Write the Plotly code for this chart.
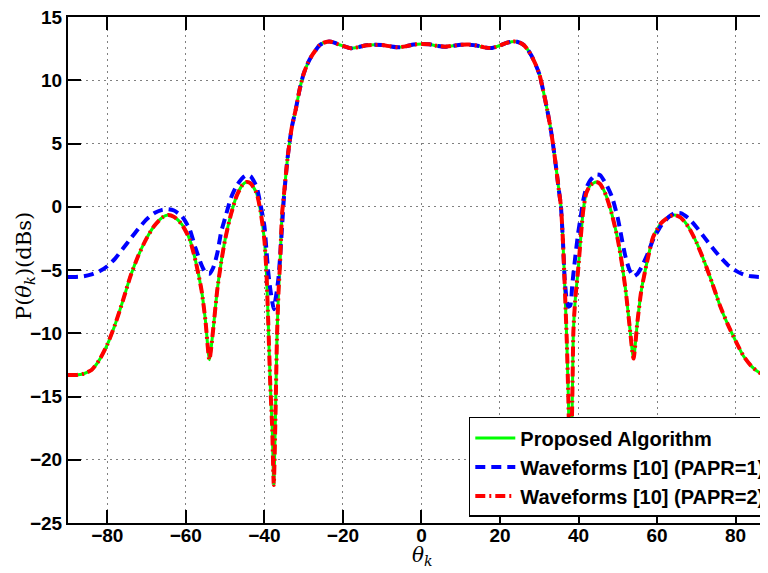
import plotly.graph_objects as go

# ---------------- data ----------------
theta = [-90, -88, -86, -84, -82, -80, -78, -76, -74, -72, -70, -68, -66, -64.5, -63,
         -61, -59, -57.5, -56, -55, -54, -53, -52, -51, -50, -48.5, -47, -45.5, -44.5,
         -43.5, -42, -41, -40, -39.5, -39, -38.5, -38, -37.6, -37.2, -36.8, -36.4, -36,
         -35.5, -35, -34, -33, -32, -31, -30, -29, -28, -27, -26, -25, -24, -23, -22,
         -21, -20, -18, -16, -14, -12, -10, -8, -6, -4, -2, 0, 2, 4, 6, 8, 10, 12, 14,
         16, 18, 20, 21, 22, 23, 24, 25, 26, 27, 28, 29, 30, 31, 32, 33, 34, 35, 35.5,
         36, 36.5, 37, 37.4, 37.9, 38.4, 38.7, 39.2, 39.9, 40.5, 41.2, 42, 43, 44.5,
         45.5, 47, 48.5, 50, 51, 52, 53, 54, 55, 56, 57.5, 59, 61, 63, 64.5, 66, 68,
         70, 72, 74, 76, 78, 80, 82, 84, 86, 88, 90]

p_proposed = [-13.3, -13.3, -13.2, -12.9, -12.1, -10.9, -9.3, -7.4, -5.4, -3.8, -2.5, -1.5,
              -0.85, -0.65, -0.8, -1.4, -2.6, -4.3, -6.6, -9.0, -12.1, -9.6, -6.6, -4.4,
              -2.6, -0.6, 0.9, 1.75, 1.95, 1.85, 1.1, -0.3, -2.6, -5.0, -9.2, -14.0,
              -17.5, -22.0, -17.0, -10.5, -6.8, -4.4, -0.6, 1.0, 4.1, 6.3, 7.7, 9.3,
              10.5, 11.3, 11.9, 12.35, 12.75, 12.95, 13.05, 13.05, 12.95, 12.82, 12.72,
              12.53, 12.62, 12.77, 12.8, 12.78, 12.68, 12.6, 12.68, 12.82, 12.87, 12.84,
              12.72, 12.65, 12.72, 12.8, 12.82, 12.75, 12.6, 12.55, 12.75, 12.88, 12.98,
              13.05, 13.07, 12.97, 12.8, 12.45, 11.95, 11.3, 10.5, 9.2, 7.7, 6.0, 3.8,
              1.3, 0.1, -2.5, -6.3, -10.5, -15.0, -22.0, -15.5, -9.8, -7.2, -5.0, -2.7,
              -0.3, 1.1, 1.7, 1.95, 1.8, 0.9, -0.6, -2.6, -4.4, -6.6, -9.4, -12.0, -9.1,
              -6.6, -4.3, -2.4, -1.3, -0.8, -0.65, -0.85, -1.6, -2.8, -4.3, -6.0, -7.8,
              -9.3, -10.6, -11.8, -12.6, -13.1, -13.3, -13.3]

p_papr1 = [-5.55, -5.55, -5.5, -5.35, -5.1, -4.7, -4.1, -3.3, -2.5, -1.7, -1.0, -0.5,
           -0.25, -0.2, -0.3, -0.75, -1.8, -3.3, -4.6, -5.2, -5.3, -4.8, -3.7, -2.0,
           -0.9, 0.7, 1.7, 2.3, 2.5, 2.4, 1.6, 0.2, -1.5, -3.3, -5.2, -6.5, -7.5, -8.1,
           -7.4, -6.6, -5.6, -4.0, -1.6, 0.8, 4.1, 6.3, 7.7, 9.3, 10.5, 11.3, 11.9,
           12.35, 12.75, 12.95, 13.05, 13.05, 12.95, 12.82, 12.72, 12.53, 12.62, 12.77,
           12.8, 12.78, 12.68, 12.6, 12.68, 12.82, 12.87, 12.84, 12.72, 12.65, 12.72,
           12.8, 12.82, 12.75, 12.6, 12.55, 12.75, 12.88, 12.98, 13.05, 13.07, 12.97,
           12.8, 12.45, 11.95, 11.3, 10.5, 9.2, 7.7, 6.0, 3.8, 1.3, 0.1, -2.5, -5.8,
           -7.4, -7.9, -7.8, -6.2, -5.3, -3.9, -2.1, -0.9, 0.5, 1.5, 2.1, 2.55, 2.5,
           1.8, 0.8, -0.9, -2.5, -4.0, -5.0, -5.5, -5.3, -4.8, -3.8, -2.6, -1.5, -0.8,
           -0.5, -0.5, -0.9, -1.6, -2.4, -3.2, -3.95, -4.6, -5.05, -5.35, -5.5, -5.55,
           -5.55, -5.55]

# the PAPR=2 waveform coincides with the proposed algorithm curve in the picture
p_papr2 = list(p_proposed)

series_names = ["Proposed Algorithm", "Waveforms [10] (PAPR=1)", "Waveforms [10] (PAPR=2)"]
x_ticks = [-80, -60, -40, -20, 0, 20, 40, 60, 80]
y_ticks = [-25, -20, -15, -10, -5, 0, 5, 10, 15]

# ---------------- figure ----------------
fig = go.Figure()
fig.add_trace(go.Scatter(x=theta, y=p_proposed, name=series_names[0], mode="lines",
                         line=dict(color="#00ff00", width=3, shape="spline", smoothing=0.6)))
fig.add_trace(go.Scatter(x=theta, y=p_papr1, name=series_names[1], mode="lines",
                         line=dict(color="#0000ff", width=4, dash="10px,6px",
                                   shape="spline", smoothing=0.6)))
fig.add_trace(go.Scatter(x=theta, y=p_papr2, name=series_names[2], mode="lines",
                         line=dict(color="#ff0000", width=4, dash="10px,4px,2px,4px",
                                   shape="spline", smoothing=0.6)))

tickfont = dict(family="Liberation Sans, Arial, sans-serif", size=19, color="black",
                weight="bold")
gridstyle = dict(showgrid=True, gridcolor="#808080", gridwidth=1, griddash="2px,4px")

# the page body has an 8 px margin, so the figure is 760x565 and the
# plot area spans page pixels x 68..768, y 17..523
fig.update_layout(
    width=760, height=565,
    margin=dict(l=60, r=0, t=9, b=50, autoexpand=False),
    paper_bgcolor="white", plot_bgcolor="white",
    showlegend=True,
    legend=dict(x=1.004, xanchor="right", y=0.012, yanchor="bottom",
                bgcolor="white", bordercolor="black", borderwidth=1.5,
                font=dict(family="Liberation Sans, Arial, sans-serif", size=20,
                          color="black", weight="bold"),
                itemwidth=40, tracegroupgap=0),
    xaxis=dict(range=[-90, 88.25], tickvals=x_ticks, ticks="inside", ticklen=13,
               tickwidth=1.5, tickcolor="black", showline=True, linecolor="black",
               linewidth=2, mirror="ticks", zeroline=False, tickfont=tickfont,
               ticklabelstandoff=-6, ticklabeloverflow="allow", **gridstyle),
    yaxis=dict(range=[-25, 15], tickvals=y_ticks, ticks="inside", ticklen=13,
               tickwidth=1.5, tickcolor="black", showline=True, linecolor="black",
               linewidth=2, mirror=False, zeroline=False, tickfont=tickfont,
               ticklabeloverflow="allow", **gridstyle),
    yaxis2=dict(range=[-25, 15], tickvals=y_ticks, ticks="inside", ticklen=6,
                tickwidth=1.5, tickcolor="black", overlaying="y", side="right",
                anchor="x", showline=False, showgrid=False, zeroline=False,
                showticklabels=False),
    annotations=[
        dict(text="P(<i>θ</i><sub><i>k</i></sub>)(dBs)", xref="paper", yref="paper",
             x=-0.0614, y=0.508, textangle=-90, showarrow=False,
             font=dict(family="DejaVu Serif, serif", size=21, color="black"),
             xanchor="center", yanchor="middle"),
        dict(text="<i>θ</i><sub><i>k</i></sub>", xref="paper", yref="paper",
             x=0.506, y=-0.066, showarrow=False,
             font=dict(family="DejaVu Serif, serif", size=20, color="black"),
             xanchor="center", yanchor="middle"),
    ],
)

fig.write_html("out.html")
